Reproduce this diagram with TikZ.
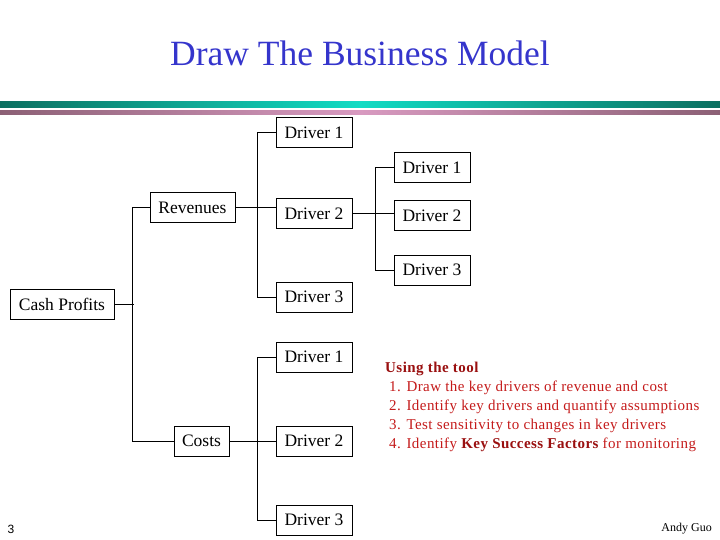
\documentclass[tikz,border=0pt]{standalone}
\usepackage{fontspec}
\setmainfont{Liberation Serif}
\newfontfamily\slidesans{Liberation Sans}
\newfontfamily\tipfont[LetterSpace=3]{Liberation Serif}
\usetikzlibrary{positioning,calc}
\definecolor{titleblue}{HTML}{3535CC}
\definecolor{tealedge}{HTML}{0B6F60}
\definecolor{tealmid}{HTML}{12DCC4}
\definecolor{pinkedge}{HTML}{8C6075}
\definecolor{pinkmid}{HTML}{D89AC0}
\definecolor{tipred}{HTML}{C41A1A}
\definecolor{tiphead}{HTML}{9A1010}

\begin{document}
\begin{tikzpicture}[
  x=1pt, y=-1pt,
  box/.style ={draw=black, line width=1pt, fill=white, inner sep=0pt,
               minimum height=30pt, font=\fontsize{17.5}{19}\selectfont},
  drv/.style ={box, minimum width=76pt},
  link/.style={draw=black, line width=1pt},
  note/.style={font=\tipfont\fontsize{15}{19}\selectfont, text=tipred, align=left, inner sep=0pt},
]
\useasboundingbox (0,0) rectangle (720,540);

% ==================================================== title and the two rules under it
\node[font=\fontsize{35.5}{40}\selectfont, text=titleblue] (title) at (360,53) {Draw The Business Model};
\shade[left color=tealedge, right color=tealedge, middle color=tealmid] (0,102) rectangle (720,108);
\shade[left color=pinkedge, right color=pinkedge, middle color=pinkmid] (0,111) rectangle (720,115);

% ==================================================== the tree
\node[box, minimum width=104pt] (cash)  at (62,304)    {Cash Profits};
\node[box, minimum width=85pt]  (rev)   at (192.5,207.5) {Revenues};
\node[box, minimum width=55pt]  (costs) at (201.5,441)  {Costs};

% revenue drivers
\node[drv] (rd1) at (314,133)   {Driver 1};
\node[drv] (rd2) at (314,213.5) {Driver 2};
\node[drv] (rd3) at (314,297)   {Driver 3};

% drivers of revenue driver 2
\node[drv] (sd1) at (432,168) {Driver 1};
\node[drv] (sd2) at (432,216) {Driver 2};
\node[drv] (sd3) at (432,270) {Driver 3};

% cost drivers
\node[drv] (cd1) at (314,357) {Driver 1};
\node[drv] (cd2) at (314,441) {Driver 2};
\node[drv] (cd3) at (314,520) {Driver 3};

% connectors: trunk, then the three buses (kept level with the parent box)
\draw[link] (cash.east) -- ++(19,0);
\draw[link] (rev.west) -- ++(-17,0) |- (costs.west);
\draw[link] (rev.east) -- (rev.east -| rd2.west);
\draw[link] (rd1.west) -- ++(-18,0) |- (rd3.west);
\draw[link] (rd2.east) -- (rd2.east -| sd2.west);
\draw[link] (sd1.west) -- ++(-18,0) |- (sd3.west);
\draw[link] (costs.east) -- (cd2.west);
\draw[link] (cd1.west) -- ++(-18,0) |- (cd3.west);

% ==================================================== how to use it
\node[note, anchor=north west] (tips) at (385,362)
  {{\color{tiphead}\bfseries Using the tool}\\
   \hspace{4pt}1. Draw the key drivers of revenue and cost\\
   \hspace{4pt}2. Identify key drivers and quantify assumptions\\
   \hspace{4pt}3. Test sensitivity to changes in key drivers\\
   \hspace{4pt}4. Identify {\color{tiphead}\bfseries Key Success Factors} for monitoring};

% ==================================================== footer
\node[font=\slidesans\fontsize{12}{14}\selectfont] (pageno) at (11,529) {3};
\node[font=\fontsize{12}{14}\selectfont, anchor=east, inner sep=0pt] (author) at (712,529) {Andy Guo};
\end{tikzpicture}
\end{document}
